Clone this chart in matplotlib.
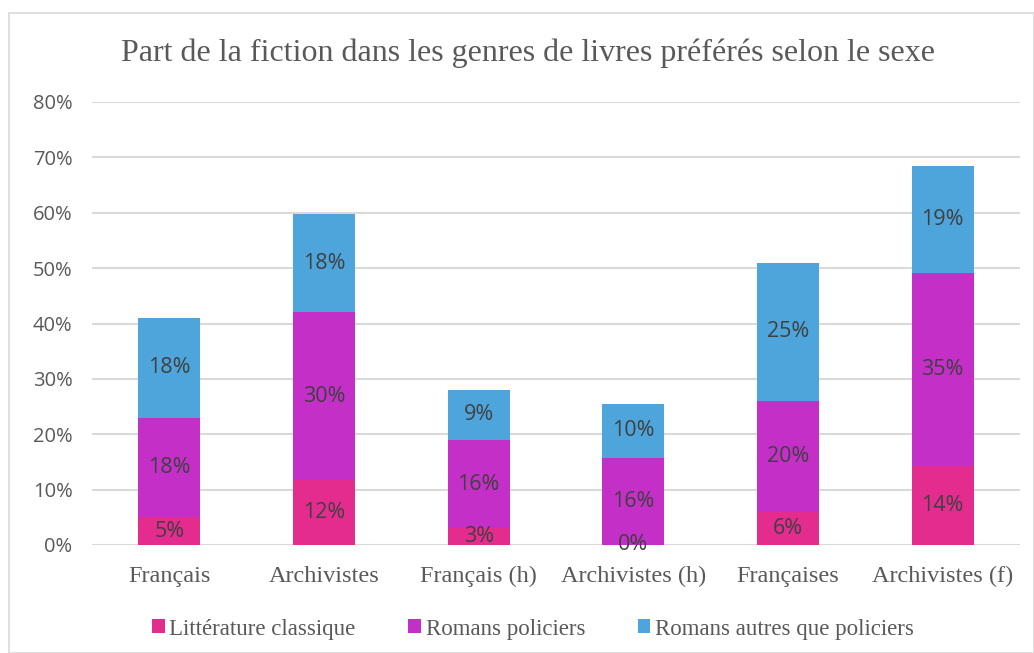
import matplotlib
matplotlib.use("Agg")
import matplotlib.pyplot as plt
from matplotlib.patches import Rectangle
import numpy as np

categories = ["Français", "Archivistes", "Français (h)", "Archivistes (h)", "Françaises", "Archivistes (f)"]
series_names = ["Littérature classique", "Romans policiers", "Romans autres que policiers"]
classique = [5.0, 11.7, 3.0, 0.0, 6.0, 14.2]
policiers = [18.0, 30.3, 16.0, 15.7, 20.0, 35.0]
autres = [18.0, 17.7, 9.0, 9.8, 25.0, 19.3]
colors = ["#E32C8E", "#C42FC8", "#4EA5DB"]
yticks = [0, 10, 20, 30, 40, 50, 60, 70, 80]
title = "Part de la fiction dans les genres de livres préférés selon le sexe"

serif = ["Liberation Serif", "DejaVu Serif"]
sans = ["Open Sans", "DejaVu Sans"]

fig = plt.figure(figsize=(10.34, 6.53), dpi=100)
fig.patches.append(Rectangle((9/1034, 0.0), 1 - 9/1034, 1 - 13/653, transform=fig.transFigure,
                             fill=False, edgecolor="#D9D9D9", linewidth=1.2))
ax = fig.add_axes([92/1034, 1 - 545/653, 928/1034, (545 - 102)/653])

x = np.arange(len(categories))
w = 0.4
bottom = np.zeros(len(categories))
for vals, col, name in zip([classique, policiers, autres], colors, series_names):
    v = np.array(vals)
    ax.bar(x, v, w, bottom=bottom, color=col, label=name, zorder=3)
    for xi, b, vi in zip(x, bottom, v):
        ax.text(xi, b + vi / 2, f"{round(vi):.0f}%", ha="center", va="center",
                fontsize=15.5, color="#404040", family=sans, zorder=4)
    bottom += v

ax.set_xlim(-0.5, len(categories) - 0.5)
ax.set_ylim(0, 80)
ax.set_yticks(yticks)
ax.set_yticklabels([f"{t}%" for t in yticks], family=sans, fontsize=14.5, color="#595959")
ax.set_xticks(x)
ax.set_xticklabels(categories, family=serif, fontsize=17.5, color="#595959")
ax.tick_params(axis="both", length=0)
ax.tick_params(axis="y", pad=14)
ax.tick_params(axis="x", pad=15)
ax.grid(axis="y", color="#D9D9D9", linewidth=1.5, zorder=0)
for s in ax.spines.values():
    s.set_visible(False)

fig.text(528/1034, 1 - 53/653, title, ha="center", va="center", family=serif,
         fontsize=23, color="#595959")

leg = fig.legend(loc="center", bbox_to_anchor=(533/1034, 1 - 629/653), ncol=3, frameon=False,
                 prop={"family": serif, "size": 16.5}, handlelength=0.55, handleheight=0.55,
                 handletextpad=0.2, columnspacing=2.3, labelcolor="#595959")

fig.savefig("out.png", dpi=100)
